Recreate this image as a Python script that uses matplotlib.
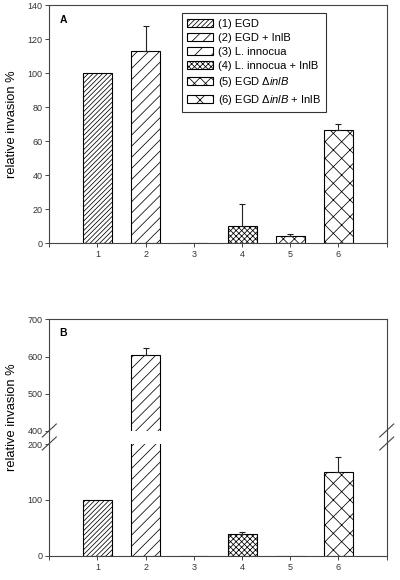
import matplotlib
matplotlib.use("Agg")
import matplotlib.pyplot as plt
from matplotlib.patches import Patch
from matplotlib.lines import Line2D

plt.rcParams['font.family'] = ['Liberation Sans', 'DejaVu Sans']
plt.rcParams['mathtext.fontset'] = 'custom'
plt.rcParams['mathtext.it'] = 'Liberation Sans:italic'
plt.rcParams['mathtext.rm'] = 'Liberation Sans'
plt.rcParams['hatch.linewidth'] = 0.55

# data
positions = [1, 2, 3, 4, 5, 6]
labels = ['(1) EGD', '(2) EGD + InlB', '(3) L. innocua', '(4) L. innocua + InlB',
          '(5) EGD \u0394$\\mathit{inlB}$', '(6) EGD \u0394$\\mathit{inlB}$ + InlB']
hatches = ['///////', '///', '//', 'xxxxxx', 'xxx', 'xx']

a_values = [100, 113.3, 0, 10.4, 4.5, 66.9]
a_errors = [0, 14.5, 0, 12.7, 0.8, 3.3]
b_values = [100, 603, 0, 38, 0, 150]
b_errors = [0, 19, 0, 4, 0, 27]

W, H = 400, 580
BAR_W = 0.6
TICK_FS = 6.5
SPINE_C = '#444444'


def fx(px):
    return px / W


def fy(py):
    return 1 - py / H


def style_axes(ax):
    for s in ax.spines.values():
        s.set_linewidth(0.8)
        s.set_color(SPINE_C)
    ax.tick_params(direction='out', length=3, width=0.7, color=SPINE_C,
                   labelsize=TICK_FS, labelcolor='#333333', pad=2)
    ax.set_xlim(0, 7)


def draw_bars(ax, values, errors):
    for x, v, h in zip(positions, values, hatches):
        ax.bar(x, v, width=BAR_W, facecolor='white', edgecolor='black',
               hatch=h, linewidth=0.8, zorder=2)
    ex = [x for x, e in zip(positions, errors) if e > 0]
    ey = [v for v, e in zip(values, errors) if e > 0]
    ee = [e for e in errors if e > 0]
    ax.errorbar(ex, ey, yerr=[[0] * len(ee), ee], fmt='none', ecolor='#222222',
                elinewidth=0.8, capsize=2.5, capthick=0.8, zorder=3)


def set_xticks(ax):
    ax.set_xticks(range(0, 8))
    ax.set_xticklabels([''] + [str(p) for p in positions] + [''])


fig = plt.figure(figsize=(4, 5.8), dpi=100)

left, right = 49.3, 386.7

# Panel A
axA = fig.add_axes([fx(left), fy(243.3), fx(right - left), (243.3 - 5.3) / H])
style_axes(axA)
draw_bars(axA, a_values, a_errors)
axA.set_ylim(0, 140)
axA.set_yticks(range(0, 141, 20))
set_xticks(axA)
axA.text((63 - left) / (right - left), (243.3 - 20) / 238, 'A',
         transform=axA.transAxes, fontsize=7.5, fontweight='bold',
         ha='center', va='center')
handles = [Patch(facecolor='white', edgecolor='black', hatch=h, linewidth=0.8)
           for h in hatches]
leg = axA.legend(handles, labels, loc='upper left',
                 bbox_to_anchor=((181.7 - left) / (right - left), (243.3 - 13.3) / 238),
                 borderaxespad=0, fontsize=8, frameon=True, fancybox=False,
                 handlelength=2.3, handleheight=0.75, labelspacing=0.36,
                 handletextpad=0.45, borderpad=0.5)
leg.get_frame().set_edgecolor('black')
leg.get_frame().set_linewidth(0.8)

fig.text(fx(12), fy(124), 'relative invasion %', rotation=90, fontsize=9.3,
         ha='center', va='center')

# Panel B (broken axis)
upper_top, upper_bot = 319.3, 431.0
lower_top, lower_bot = 444.0, 555.7
axBu = fig.add_axes([fx(left), fy(upper_bot), fx(right - left), (upper_bot - upper_top) / H])
axBl = fig.add_axes([fx(left), fy(lower_bot), fx(right - left), (lower_bot - lower_top) / H])
for ax in (axBu, axBl):
    style_axes(ax)
    draw_bars(ax, b_values, b_errors)
axBu.set_ylim(400, 700)
axBu.set_yticks([400, 500, 600, 700])
axBu.spines['bottom'].set_visible(False)
axBu.set_xticks([])
axBl.set_ylim(0, 200)
axBl.set_yticks([0, 100, 200])
axBl.spines['top'].set_visible(False)
set_xticks(axBl)
axBu.text((63 - left) / (right - left), (upper_bot - 333) / (upper_bot - upper_top), 'B',
          transform=axBu.transAxes, fontsize=7.5, fontweight='bold',
          ha='center', va='center')

# connect spines across the break and add break marks
for xs in (left, right):
    fig.add_artist(Line2D([fx(xs), fx(xs)], [fy(upper_bot), fy(lower_top)],
                          color=SPINE_C, linewidth=0.8))
    for yc in (430.5, 443.5):
        fig.add_artist(Line2D([fx(xs - 7), fx(xs + 7)], [fy(yc + 6.5), fy(yc - 6.5)],
                              color=SPINE_C, linewidth=0.8))

fig.text(fx(12), fy(417), 'relative invasion %', rotation=90, fontsize=9.3,
         ha='center', va='center')

fig.savefig('out.png', dpi=100, facecolor='white')
